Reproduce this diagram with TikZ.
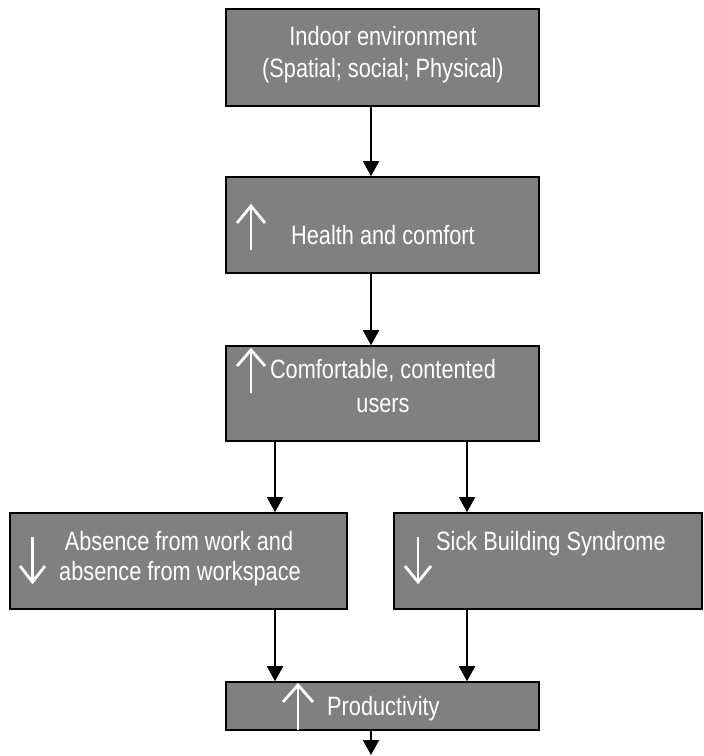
\documentclass[tikz,border=0pt]{standalone}
\usepackage{fontspec}
\setmainfont{Liberation Sans}[FakeStretch=0.82]
\usetikzlibrary{arrows.meta}
\definecolor{boxgray}{RGB}{128,128,128}
\begin{document}
\begin{tikzpicture}[x=1pt,y=-1pt,
  box/.style={draw=black,line width=1.6pt,fill=boxgray,rectangle,inner sep=0pt},
  txt/.style={text=white,inner sep=0pt,anchor=base,font=\fontsize{26.5}{32}\selectfont},
  txtw/.style={txt,anchor=base west},
  conn/.style={draw=black,line width=1.6pt,-{Triangle[width=16pt,length=15pt]}},
  warr/.style={draw=white,line width=2.8pt,line join=miter,line cap=butt}]
\useasboundingbox (0,0) rectangle (704,756);
% boxes
\node[box,minimum width=313pt,minimum height=97pt] (b1) at (382.5,57.5) {};
\node[box,minimum width=313pt,minimum height=96pt] (b2) at (382.5,225) {};
\node[box,minimum width=313pt,minimum height=95pt] (b3) at (382.5,393.5) {};
\node[box,minimum width=337pt,minimum height=96pt] (b4) at (178.5,561) {};
\node[box,minimum width=308pt,minimum height=96pt] (b5) at (548,561) {};
\node[box,minimum width=313pt,minimum height=48pt] (b6) at (382.5,706) {};
% texts
\node[txt] (t1a) at (383,45) {Indoor environment};
\node[txt] (t1b) at (383,77) {(Spatial; social; Physical)};
\node[txt] (t2) at (383,244) {Health and comfort};
\node[txt] (t3a) at (383,378) {Comfortable, contented};
\node[txt] (t3b) at (383,412) {users};
\node[txt] (t4a) at (179,550) {Absence from work and};
\node[txt] (t4b) at (180,580) {absence from workspace};
\node[txtw] (t5) at (436,550) {Sick Building Syndrome};
\node[txtw] (t6) at (327,715) {Productivity};
% white up/down arrows
\draw[warr] (251,250) -- (251,207);
\draw[warr] (237,223) -- (251,206) -- (265,223);
\draw[warr] (251,393) -- (251,352);
\draw[warr] (237,366) -- (251,350) -- (265,366);
\draw[warr] (32.5,537) -- (32.5,580);
\draw[warr] (20,566) -- (32.5,582) -- (45,566);
\draw[warr] (418,537) -- (418,580);
\draw[warr] (405,566) -- (418,582) -- (431,566);
\draw[warr] (298,730) -- (298,687);
\draw[warr] (283,702) -- (298,685) -- (313,702);
% connector columns
\coordinate (xm) at (371,0);
\coordinate (xl) at (275,0);
\coordinate (xr) at (467,0);
\coordinate (endp) at (371,755);
\draw[conn] (b1.south -| xm) -- (b2.north -| xm);
\draw[conn] (b2.south -| xm) -- (b3.north -| xm);
\draw[conn] (b3.south -| xl) -- (b4.north -| xl);
\draw[conn] (b3.south -| xr) -- (b5.north -| xr);
\draw[conn] (b4.south -| xl) -- (b6.north -| xl);
\draw[conn] (b5.south -| xr) -- (b6.north -| xr);
\draw[conn] (b6.south -| xm) -- (endp);
\end{tikzpicture}
\end{document}
